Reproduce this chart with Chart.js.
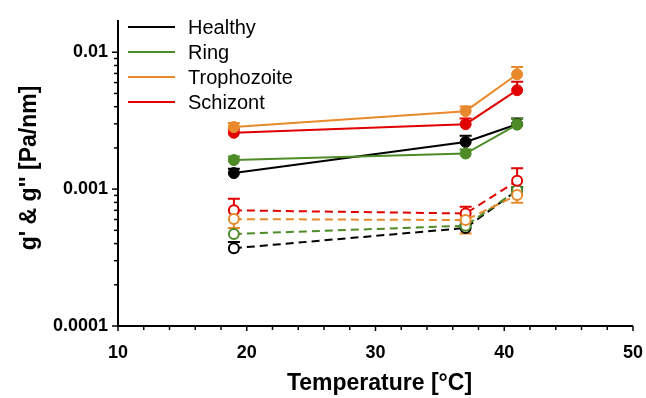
<!DOCTYPE html>
<html>
<head>
<meta charset="utf-8">
<script src="https://cdn.jsdelivr.net/npm/chart.js@4.4.1/dist/chart.umd.min.js"></script>
<style>
  html, body { margin: 0; padding: 0; background: #fff; }
  #wrap { width: 646px; height: 398px; }
</style>
</head>
<body>
<div id="wrap"><canvas id="chart" width="646" height="398"></canvas></div>
<script>
// Data
const temps = [19, 37, 41];
const groups = ['Healthy', 'Ring', 'Trophozoite', 'Schizont'];
const colors = ['#000000', '#4d8b26', '#e8892b', '#e00000'];
// drawing order (lower = on top)
const stacking = [4, 3, 1, 2];

// g' (solid, filled markers)
const gStorage = [
  [0.00131, 0.00221, 0.00298],
  [0.00163, 0.00182, 0.00296],
  [0.00284, 0.00371, 0.0069],
  [0.00258, 0.00298, 0.00528]
];
const gStorageErr = [
  [0.0001, 0.00024, 0.0003],
  [0.0001, 0.00013, 0.0003],
  [0.0002, 0.0003, 0.0009],
  [0.00015, 0.0003, 0.0008]
];
// error bar direction (+1 up, -1 down)
const gStorageErrDir = [1, 1, 1, 1];

// g'' (dashed, open markers)
const gLoss = [
  [0.00037, 0.00052, 0.00098],
  [0.00047, 0.00054, 0.00098],
  [0.000604, 0.000594, 0.000904],
  [0.0007, 0.000664, 0.00115]
];
const gLossErr = [
  [0.00004, 0.00003, 0.00005],
  [0.00005, 0.00004, 0.00005],
  [0.000085, 0.00012, 0.00011],
  [0.00015, 0.00008, 0.00027]
];
const gLossErrDir = [1, 1, -1, 1];

const xTicks = [10, 20, 30, 40, 50];
const yTicks = [0.0001, 0.001, 0.01];

const FONT = '"Liberation Sans", Arial, sans-serif';

// Build datasets
const datasets = [];
groups.forEach((name, i) => {
  datasets.push({
    label: name,
    data: temps.map((t, k) => ({ x: t, y: gStorage[i][k] })),
    errors: gStorageErr[i],
    errDir: gStorageErrDir[i],
    order: stacking[i],
    borderColor: colors[i],
    backgroundColor: colors[i],
    pointBackgroundColor: colors[i],
    pointBorderColor: colors[i],
    pointRadius: 5.5,
    pointBorderWidth: 1,
    borderWidth: 2,
    tension: 0,
    clip: false
  });
});
groups.forEach((name, i) => {
  datasets.push({
    label: name + " g''",
    data: temps.map((t, k) => ({ x: t, y: gLoss[i][k] })),
    errors: gLossErr[i],
    errDir: gLossErrDir[i],
    order: stacking[i] + 4,
    borderColor: colors[i],
    backgroundColor: '#ffffff',
    pointBackgroundColor: '#ffffff',
    pointBorderColor: colors[i],
    pointRadius: 5,
    pointBorderWidth: 2,
    borderWidth: 2,
    borderDash: [8, 5],
    tension: 0,
    clip: false
  });
});

// Error bars, tick marks, titles and legend
const extrasPlugin = {
  id: 'extras',
  beforeDatasetsDraw(chart) {
    const ctx = chart.ctx;
    const xs = chart.scales.x, ys = chart.scales.y;
    chart.data.datasets.forEach(ds => {
      ctx.save();
      ctx.strokeStyle = ds.borderColor;
      ctx.lineWidth = 2;
      ds.data.forEach((p, k) => {
        const e = ds.errors[k] * ds.errDir;
        const px = xs.getPixelForValue(p.x);
        const mid = ys.getPixelForValue(p.y);
        const end = ys.getPixelForValue(p.y + e);
        ctx.beginPath();
        ctx.moveTo(px, mid); ctx.lineTo(px, end);
        ctx.moveTo(px - 6, end); ctx.lineTo(px + 6, end);
        ctx.stroke();
      });
      ctx.restore();
    });
  },
  afterDraw(chart) {
    const ctx = chart.ctx;
    const xs = chart.scales.x, ys = chart.scales.y;
    const area = chart.chartArea;
    ctx.save();
    ctx.strokeStyle = '#000';
    ctx.lineWidth = 2;
    // axis lines
    ctx.beginPath();
    ctx.moveTo(area.left, area.top);
    ctx.lineTo(area.left, area.bottom);
    ctx.lineTo(area.right, area.bottom);
    ctx.stroke();
    // x ticks: every 2 units
    ctx.lineWidth = 1.5;
    for (let v = xs.min; v <= xs.max; v += 2) {
      const px = xs.getPixelForValue(v);
      const len = v % 10 === 0 ? 5 : 4;
      ctx.beginPath();
      ctx.moveTo(px, area.bottom);
      ctx.lineTo(px, area.bottom + len);
      ctx.stroke();
    }
    // y ticks: log minors
    for (let d = -4; d <= -2; d++) {
      for (let m = 1; m <= 9; m++) {
        const v = m * Math.pow(10, d);
        if (v > ys.max) break;
        const py = ys.getPixelForValue(v);
        const len = m === 1 ? 6 : 4;
        ctx.beginPath();
        ctx.moveTo(area.left - len, py);
        ctx.lineTo(area.left, py);
        ctx.stroke();
      }
    }
    // axis titles
    ctx.fillStyle = '#000';
    ctx.font = 'bold 23px ' + FONT;
    ctx.textAlign = 'center';
    ctx.textBaseline = 'middle';
    ctx.fillText('Temperature [\u00B0C]', (area.left + area.right) / 2 + 4, 384);
    ctx.save();
    ctx.translate(30, 168);
    ctx.rotate(-Math.PI / 2);
    ctx.fillText("g' & g'' [Pa/nm]", 0, 0);
    ctx.restore();
    // legend
    ctx.font = '20px ' + FONT;
    ctx.textAlign = 'left';
    groups.forEach((name, i) => {
      const y = 27 + i * 25;
      ctx.strokeStyle = colors[i];
      ctx.lineWidth = 2;
      ctx.beginPath();
      ctx.moveTo(128, y);
      ctx.lineTo(175, y);
      ctx.stroke();
      ctx.fillStyle = '#000';
      ctx.fillText(name, 188, y + 1);
    });
    ctx.restore();
  }
};

new Chart(document.getElementById('chart'), {
  type: 'line',
  data: { datasets },
  options: {
    responsive: false,
    animation: false,
    layout: { padding: { left: 0, top: 20, right: 13, bottom: 0 } },
    plugins: {
      legend: { display: false },
      tooltip: { enabled: false }
    },
    scales: {
      x: {
        type: 'linear',
        min: 10,
        max: 50,
        grid: { display: false, drawTicks: false },
        border: { display: false },
        afterBuildTicks: scale => { scale.ticks = xTicks.map(v => ({ value: v })); },
        afterFit: scale => {
          scale.height = 72;
          scale.paddingLeft = 0;
          scale.paddingRight = 0;
        },
        ticks: {
          autoSkip: false,
          maxRotation: 0,
          padding: 16,
          color: '#000',
          font: { family: FONT, size: 18, weight: 'bold' },
          callback: v => String(v)
        }
      },
      y: {
        type: 'logarithmic',
        min: 0.0001,
        max: 0.0172,
        grid: { display: false, drawTicks: false },
        border: { display: false },
        afterBuildTicks: scale => { scale.ticks = yTicks.map(v => ({ value: v })); },
        afterFit: scale => {
          scale.width = 118;
          scale.paddingTop = 0;
          scale.paddingBottom = 0;
        },
        ticks: {
          autoSkip: false,
          padding: 10,
          color: '#000',
          font: { family: FONT, size: 18, weight: 'bold' },
          callback: v => String(v)
        }
      }
    }
  },
  plugins: [extrasPlugin]
});
</script>
</body>
</html>
